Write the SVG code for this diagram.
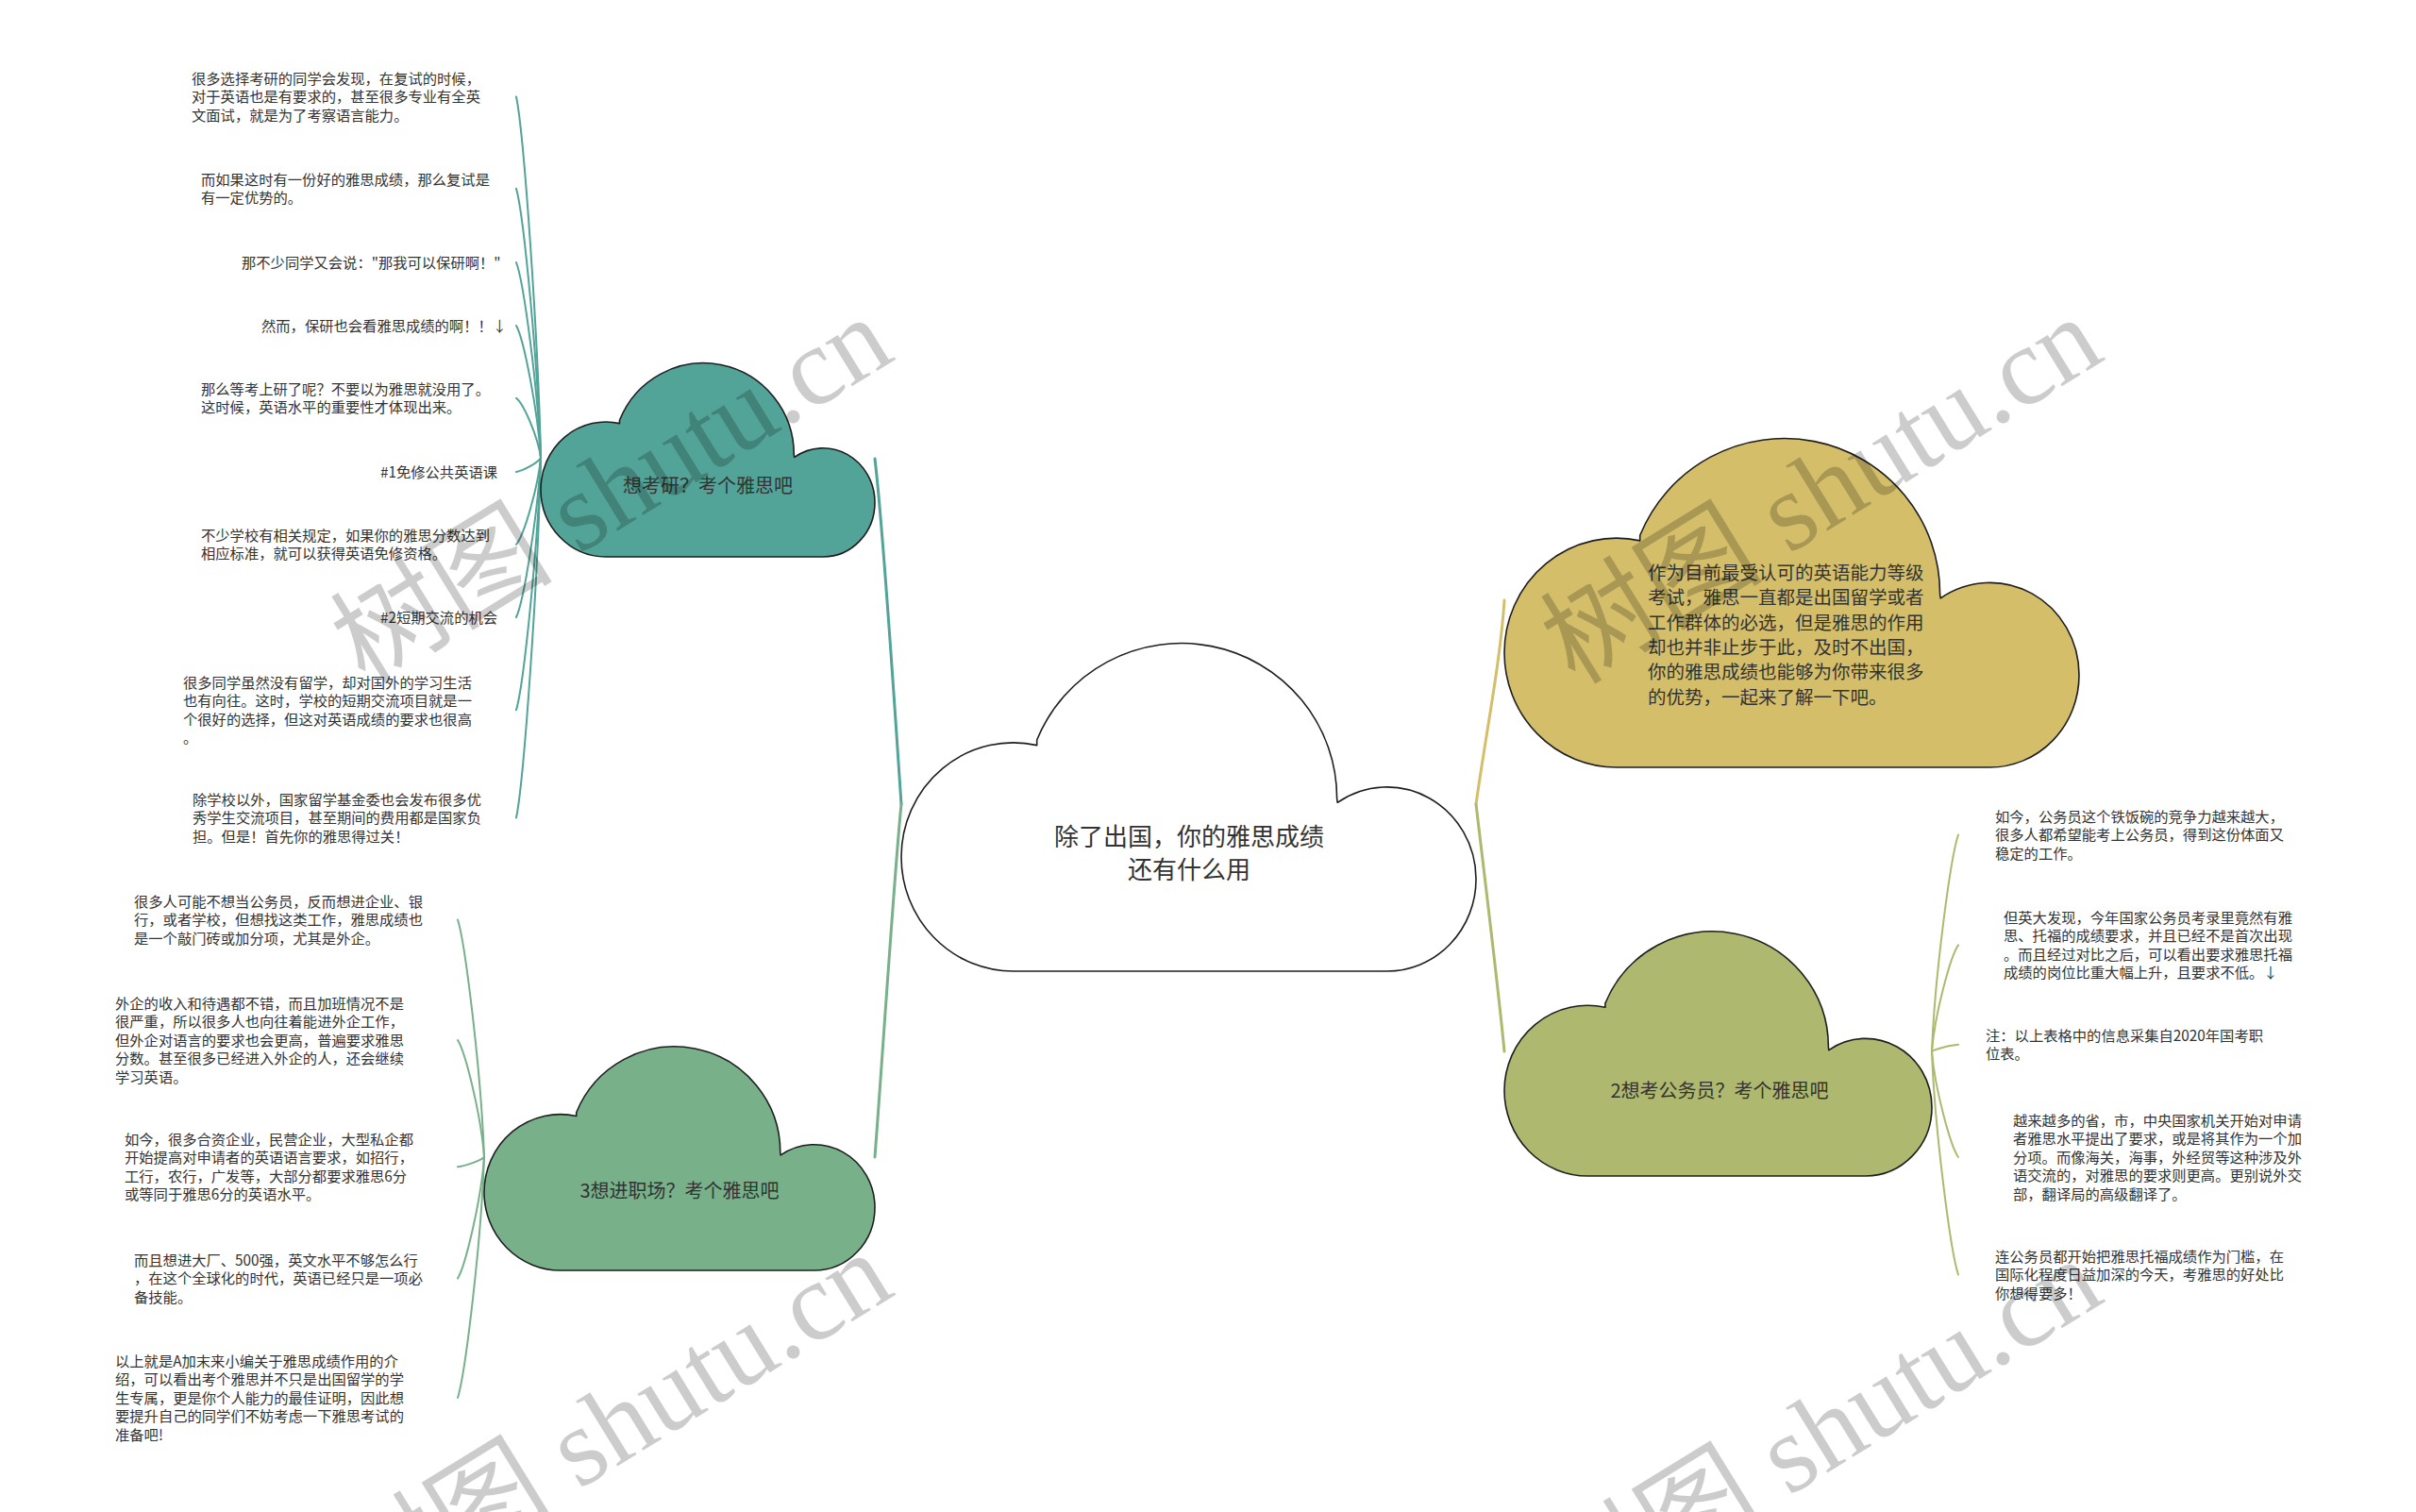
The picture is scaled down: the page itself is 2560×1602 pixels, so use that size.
<svg xmlns="http://www.w3.org/2000/svg" width="2560" height="1602" viewBox="0 0 2560 1602">
<style>
.leaf{font-family:"Noto Sans CJK SC","Noto Sans",sans-serif;font-size:15.3px;fill:#333}
.ctext{font-family:"Noto Sans CJK SC","Noto Sans",sans-serif;font-size:20px;fill:#333;text-anchor:middle}
.cloud{stroke:#1e1e1e;stroke-width:1.6;stroke-linejoin:round}
.conn path{fill:none;stroke-linecap:round}
.main{stroke-width:3}
.lf{stroke-width:2}
.teal{stroke:#52A398}
.green{stroke:#78B08A}
.olive{stroke:#AEB86E}
.yellow{stroke:#D4BE6A}
.wm{font-family:"Liberation Serif","Noto Sans CJK SC",serif;font-size:118px;fill:#000;fill-opacity:0.2;text-anchor:middle}
</style>
<rect width="2560" height="1602" fill="#fff"/>
<g id="connectors" class="conn">
<path class="main teal" d="M927 486 C936 560,950 780,955 852"/>
<path class="main green" d="M955 852 C948 920,933 1150,927 1226"/>
<path class="main yellow" d="M1564 852 C1574 780,1590 700,1594 636"/>
<path class="main olive" d="M1564 852 C1572 920,1588 1050,1594 1114"/>
<path class="lf teal" d="M547 102.5 C555 140.8,570 351.1,573 485"/>
<path class="lf teal" d="M547 199.8 C555 228.3,570 385.2,573 485"/>
<path class="lf teal" d="M547 278 C555 298.7,570 412.6,573 485"/>
<path class="lf teal" d="M547 345 C555 359,570 436,573 485"/>
<path class="lf teal" d="M547 421.8 C555 428.1,570 462.9,573 485"/>
<path class="lf teal" d="M547 500 C555 498.5,570 490.3,573 485"/>
<path class="lf teal" d="M547 576.8 C555 567.6,570 517.1,573 485"/>
<path class="lf teal" d="M547 654 C555 637.1,570 544.2,573 485"/>
<path class="lf teal" d="M547 752.3 C555 725.5,570 578.5,573 485"/>
<path class="lf teal" d="M547 866.5 C555 828.4,570 618.5,573 485"/>
<path class="lf green" d="M485 974.5 C493 999.7,510 1138,513 1226"/>
<path class="lf green" d="M485 1102 C493 1114.4,510 1182.6,513 1226"/>
<path class="lf green" d="M485 1236.3 C493 1235.2,510 1229.6,513 1226"/>
<path class="lf green" d="M485 1354.5 C493 1341.7,510 1271,513 1226"/>
<path class="lf green" d="M485 1481 C493 1455.5,510 1315.3,513 1226"/>
<path class="lf olive" d="M2075 884.5 C2067 907.5,2050 1033.7,2047 1114"/>
<path class="lf olive" d="M2075 1001.3 C2067 1012.5,2050 1074.5,2047 1114"/>
<path class="lf olive" d="M2075 1106.8 C2067 1107.5,2050 1111.5,2047 1114"/>
<path class="lf olive" d="M2075 1226 C2067 1214.8,2050 1153.2,2047 1114"/>
<path class="lf olive" d="M2075 1350.5 C2067 1326.9,2050 1196.8,2047 1114"/>
</g>
<g id="center">
<path class="cloud" fill="#fff" d="M1073.8 1029 A118.8 121.1 0 0 1 955 907.9 A118.8 121.1 0 0 1 1098.7 789.6 L1098.7 784 A165 164.1 0 0 1 1416.6 846.1 L1417.2 850.3 A94.4 97.5 0 0 1 1564 931.5 A94.4 97.5 0 0 1 1469.6 1029 Z"/>
<text class="ctext" style="font-size:26px" x="1260" y="896">除了出国，你的雅思成绩</text>
<text class="ctext" style="font-size:26px" x="1260" y="931">还有什么用</text>
</g>
<g id="n-kaoyan">
<path class="cloud" fill="#52A398" d="M642 590 A69 71.5 0 0 1 573 518.5 A69 71.5 0 0 1 656.5 448.6 L656.5 445.3 A95.9 97 0 0 1 841.3 482 L841.7 484.4 A54.9 57.6 0 0 1 927 532.4 A54.9 57.6 0 0 1 872.1 590 Z"/>
<text class="ctext" x="750" y="522">想考研？考个雅思吧</text>
</g>
<g id="n-zhichang">
<path class="cloud" fill="#78B08A" d="M593.7 1346 A80.7 82.7 0 0 1 513 1263.3 A80.7 82.7 0 0 1 610.7 1182.5 L610.7 1178.7 A112.2 112.1 0 0 1 826.8 1221.1 L827.2 1223.9 A64.2 66.6 0 0 1 927 1279.4 A64.2 66.6 0 0 1 862.8 1346 Z"/>
<text class="ctext" x="720" y="1269">3想进职场？考个雅思吧</text>
</g>
<g id="n-gongwuyuan">
<path class="cloud" fill="#AEB86E" d="M1682.3 1246 A88.3 90.4 0 0 1 1594 1155.6 A88.3 90.4 0 0 1 1700.9 1067.3 L1700.9 1063.1 A122.8 122.5 0 0 1 1937.4 1109.5 L1937.8 1112.6 A70.2 72.8 0 0 1 2047 1173.2 A70.2 72.8 0 0 1 1976.8 1246 Z"/>
<text class="ctext" x="1822" y="1163">2想考公务员？考个雅思吧</text>
</g>
<g id="n-intro">
<path class="cloud" fill="#D4BE6A" d="M1712.8 813 A118.8 121.5 0 0 1 1594 691.5 A118.8 121.5 0 0 1 1737.7 572.9 L1737.7 567.3 A165 164.6 0 0 1 2055.6 629.6 L2056.2 633.8 A94.4 97.8 0 0 1 2203 715.2 A94.4 97.8 0 0 1 2108.6 813 Z"/>
<text class="leaf" style="font-size:19.5px" x="1746" y="614"><tspan x="1746">作为目前最受认可的英语能力等级</tspan><tspan x="1746" dy="26.3">考试，雅思一直都是出国留学或者</tspan><tspan x="1746" dy="26.3">工作群体的必选，但是雅思的作用</tspan><tspan x="1746" dy="26.3">却也并非止步于此，及时不出国，</tspan><tspan x="1746" dy="26.3">你的雅思成绩也能够为你带来很多</tspan><tspan x="1746" dy="26.3">的优势，一起来了解一下吧。</tspan></text>
</g>
<g id="leaf-t1"><text class="leaf" y="88.5"><tspan x="203">很多选择考研的同学会发现，在复试的时候，</tspan><tspan x="203" dy="19.5">对于英语也是有要求的，甚至很多专业有全英</tspan><tspan x="203" dy="19.5">文面试，就是为了考察语言能力。</tspan></text></g>
<g id="leaf-t2"><text class="leaf" y="195.5"><tspan x="213">而如果这时有一份好的雅思成绩，那么复试是</tspan><tspan x="213" dy="19.5">有一定优势的。</tspan></text></g>
<g id="leaf-t3"><text class="leaf" x="256" y="283.5">那不少同学又会说："那我可以保研啊！"</text></g>
<g id="leaf-t4"><text class="leaf" x="277" y="350.5">然而，保研也会看雅思成绩的啊！！↓</text></g>
<g id="leaf-t5"><text class="leaf" y="417.5"><tspan x="213">那么等考上研了呢？不要以为雅思就没用了。</tspan><tspan x="213" dy="19.5">这时候，英语水平的重要性才体现出来。</tspan></text></g>
<g id="leaf-t6"><text class="leaf" x="403" y="505.5">#1免修公共英语课</text></g>
<g id="leaf-t7"><text class="leaf" y="572.5"><tspan x="213">不少学校有相关规定，如果你的雅思分数达到</tspan><tspan x="213" dy="19.5">相应标准，就可以获得英语免修资格。</tspan></text></g>
<g id="leaf-t8"><text class="leaf" x="403" y="659.5">#2短期交流的机会</text></g>
<g id="leaf-t9"><text class="leaf" y="728.5"><tspan x="194">很多同学虽然没有留学，却对国外的学习生活</tspan><tspan x="194" dy="19.5">也有向往。这时，学校的短期交流项目就是一</tspan><tspan x="194" dy="19.5">个很好的选择，但这对英语成绩的要求也很高</tspan><tspan x="194" dy="19.5">。</tspan></text></g>
<g id="leaf-t10"><text class="leaf" y="852.5"><tspan x="204">除学校以外，国家留学基金委也会发布很多优</tspan><tspan x="204" dy="19.5">秀学生交流项目，甚至期间的费用都是国家负</tspan><tspan x="204" dy="19.5">担。但是！首先你的雅思得过关！</tspan></text></g>
<g id="leaf-t11"><text class="leaf" y="960.5"><tspan x="142">很多人可能不想当公务员，反而想进企业、银</tspan><tspan x="142" dy="19.5">行，或者学校，但想找这类工作，雅思成绩也</tspan><tspan x="142" dy="19.5">是一个敲门砖或加分项，尤其是外企。</tspan></text></g>
<g id="leaf-t12"><text class="leaf" y="1068.5"><tspan x="122">外企的收入和待遇都不错，而且加班情况不是</tspan><tspan x="122" dy="19.5">很严重，所以很多人也向往着能进外企工作，</tspan><tspan x="122" dy="19.5">但外企对语言的要求也会更高，普遍要求雅思</tspan><tspan x="122" dy="19.5">分数。甚至很多已经进入外企的人，还会继续</tspan><tspan x="122" dy="19.5">学习英语。</tspan></text></g>
<g id="leaf-t13"><text class="leaf" y="1212.5"><tspan x="132">如今，很多合资企业，民营企业，大型私企都</tspan><tspan x="132" dy="19.5">开始提高对申请者的英语语言要求，如招行，</tspan><tspan x="132" dy="19.5">工行，农行，广发等，大部分都要求雅思6分</tspan><tspan x="132" dy="19.5">或等同于雅思6分的英语水平。</tspan></text></g>
<g id="leaf-t14"><text class="leaf" y="1340.5"><tspan x="142">而且想进大厂、500强，英文水平不够怎么行</tspan><tspan x="142" dy="19.5">，在这个全球化的时代，英语已经只是一项必</tspan><tspan x="142" dy="19.5">备技能。</tspan></text></g>
<g id="leaf-t15"><text class="leaf" y="1447.5"><tspan x="122">以上就是A加末来小编关于雅思成绩作用的介</tspan><tspan x="122" dy="19.5">绍，可以看出考个雅思并不只是出国留学的学</tspan><tspan x="122" dy="19.5">生专属，更是你个人能力的最佳证明，因此想</tspan><tspan x="122" dy="19.5">要提升自己的同学们不妨考虑一下雅思考试的</tspan><tspan x="122" dy="19.5">准备吧!</tspan></text></g>
<g id="leaf-r1"><text class="leaf" y="870.5"><tspan x="2114">如今，公务员这个铁饭碗的竞争力越来越大，</tspan><tspan x="2114" dy="19.5">很多人都希望能考上公务员，得到这份体面又</tspan><tspan x="2114" dy="19.5">稳定的工作。</tspan></text></g>
<g id="leaf-r2"><text class="leaf" y="977.5"><tspan x="2123">但英大发现，今年国家公务员考录里竟然有雅</tspan><tspan x="2123" dy="19.5">思、托福的成绩要求，并且已经不是首次出现</tspan><tspan x="2123" dy="19.5">。而且经过对比之后，可以看出要求雅思托福</tspan><tspan x="2123" dy="19.5">成绩的岗位比重大幅上升，且要求不低。↓</tspan></text></g>
<g id="leaf-r3"><text class="leaf" y="1102.5"><tspan x="2104">注：以上表格中的信息采集自2020年国考职</tspan><tspan x="2104" dy="19.5">位表。</tspan></text></g>
<g id="leaf-r4"><text class="leaf" y="1192.5"><tspan x="2133">越来越多的省，市，中央国家机关开始对申请</tspan><tspan x="2133" dy="19.5">者雅思水平提出了要求，或是将其作为一个加</tspan><tspan x="2133" dy="19.5">分项。而像海关，海事，外经贸等这种涉及外</tspan><tspan x="2133" dy="19.5">语交流的，对雅思的要求则更高。更别说外交</tspan><tspan x="2133" dy="19.5">部，翻译局的高级翻译了。</tspan></text></g>
<g id="leaf-r5"><text class="leaf" y="1336.5"><tspan x="2114">连公务员都开始把雅思托福成绩作为门槛，在</tspan><tspan x="2114" dy="19.5">国际化程度日益加深的今天，考雅思的好处比</tspan><tspan x="2114" dy="19.5">你想得要多！</tspan></text></g>
<g id="watermarks">
<text class="wm" transform="translate(649 521) rotate(-31.6)" x="0" y="38">树图 shutu.cn</text>
<text class="wm" transform="translate(1931 521) rotate(-31.6)" x="0" y="38">树图 shutu.cn</text>
<text class="wm" transform="translate(649 1512) rotate(-31.6)" x="0" y="38">树图 shutu.cn</text>
<text class="wm" transform="translate(1931 1519) rotate(-31.6)" x="0" y="38">树图 shutu.cn</text>
</g>
</svg>
